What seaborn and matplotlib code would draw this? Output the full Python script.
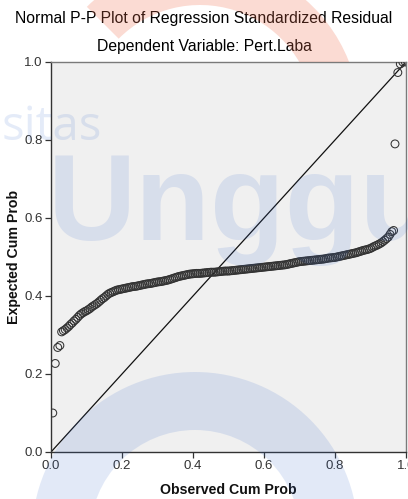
import matplotlib
matplotlib.use("Agg")
import matplotlib.pyplot as plt
from matplotlib.patches import Wedge, Rectangle
import seaborn as sns

# ---- data ----
# isolated points at both ends
tail_obs = [0.005, 0.012, 0.019, 0.025, 0.969, 0.977, 0.984, 0.991, 0.998]
tail_exp = [0.100, 0.227, 0.268, 0.273, 0.790, 0.973, 0.995, 1.000, 1.000]

# the dense chain of points in the middle
chain_obs = [
    0.030, 0.035, 0.040, 0.045, 0.050, 0.055, 0.060, 0.065, 0.070, 0.075,
    0.080, 0.085, 0.090, 0.095, 0.100, 0.105, 0.110, 0.115, 0.120, 0.125,
    0.130, 0.135, 0.140, 0.145, 0.150, 0.155, 0.160, 0.165, 0.170, 0.175,
    0.180, 0.185, 0.190, 0.195, 0.200, 0.205, 0.210, 0.215, 0.220, 0.225,
    0.230, 0.235, 0.240, 0.245, 0.250, 0.255, 0.260, 0.265, 0.270, 0.275,
    0.280, 0.285, 0.290, 0.295, 0.300, 0.305, 0.310, 0.315, 0.320, 0.325,
    0.330, 0.335, 0.340, 0.345, 0.350, 0.355, 0.360, 0.365, 0.370, 0.375,
    0.380, 0.385, 0.390, 0.395, 0.400, 0.405, 0.410, 0.415, 0.420, 0.425,
    0.430, 0.435, 0.440, 0.445, 0.450, 0.455, 0.460, 0.465, 0.470, 0.475,
    0.480, 0.485, 0.490, 0.495, 0.500, 0.505, 0.510, 0.515, 0.520, 0.525,
    0.530, 0.535, 0.540, 0.545, 0.550, 0.555, 0.560, 0.565, 0.570, 0.575,
    0.580, 0.585, 0.590, 0.595, 0.600, 0.605, 0.610, 0.615, 0.620, 0.625,
    0.630, 0.635, 0.640, 0.645, 0.650, 0.655, 0.660, 0.665, 0.670, 0.675,
    0.680, 0.685, 0.690, 0.695, 0.700, 0.705, 0.710, 0.715, 0.720, 0.725,
    0.730, 0.735, 0.740, 0.745, 0.750, 0.755, 0.760, 0.765, 0.770, 0.775,
    0.780, 0.785, 0.790, 0.795, 0.800, 0.805, 0.810, 0.815, 0.820, 0.825,
    0.830, 0.835, 0.840, 0.845, 0.850, 0.855, 0.860, 0.865, 0.870, 0.875,
    0.880, 0.885, 0.890, 0.895, 0.900, 0.905, 0.910, 0.915, 0.920, 0.925,
    0.930, 0.935, 0.940, 0.945, 0.950, 0.955, 0.960, 0.965,
]
chain_exp = [
    0.308, 0.311, 0.314, 0.318, 0.322, 0.327, 0.331, 0.336, 0.340, 0.345,
    0.350, 0.354, 0.357, 0.360, 0.362, 0.365, 0.368, 0.372, 0.375, 0.378,
    0.381, 0.385, 0.389, 0.393, 0.396, 0.400, 0.404, 0.407, 0.409, 0.411,
    0.413, 0.415, 0.416, 0.417, 0.418, 0.419, 0.420, 0.421, 0.422, 0.423,
    0.424, 0.4245, 0.425, 0.426, 0.427, 0.428, 0.429, 0.430, 0.431, 0.4315,
    0.432, 0.433, 0.434, 0.435, 0.436, 0.4365, 0.437, 0.438, 0.439, 0.440,
    0.441, 0.4425, 0.444, 0.4455, 0.447, 0.4485, 0.450, 0.451, 0.452, 0.453,
    0.454, 0.455, 0.456, 0.4565, 0.457, 0.4575, 0.458, 0.458, 0.458, 0.4585,
    0.459, 0.4595, 0.460, 0.4605, 0.461, 0.461, 0.461, 0.4615, 0.462, 0.4625,
    0.463, 0.4635, 0.464, 0.464, 0.464, 0.4645, 0.465, 0.4655, 0.466, 0.4665,
    0.467, 0.4675, 0.468, 0.4685, 0.469, 0.4695, 0.470, 0.4705, 0.471, 0.4715,
    0.472, 0.4725, 0.473, 0.4735, 0.474, 0.4745, 0.475, 0.4755, 0.476, 0.4765,
    0.477, 0.4775, 0.478, 0.4785, 0.479, 0.4795, 0.480, 0.481, 0.482, 0.483,
    0.484, 0.485, 0.486, 0.487, 0.488, 0.4885, 0.489, 0.4895, 0.490, 0.4905,
    0.491, 0.4915, 0.492, 0.4925, 0.493, 0.4935, 0.494, 0.4945, 0.495, 0.496,
    0.497, 0.4975, 0.498, 0.4985, 0.499, 0.500, 0.501, 0.502, 0.503, 0.504,
    0.505, 0.506, 0.507, 0.508, 0.509, 0.510, 0.511, 0.5125, 0.514, 0.5155,
    0.517, 0.518, 0.519, 0.5205, 0.522, 0.5245, 0.527, 0.529, 0.531, 0.5335,
    0.536, 0.5395, 0.543, 0.547, 0.551, 0.558, 0.565, 0.568,
]

tick_vals = [0.0, 0.2, 0.4, 0.6, 0.8, 1.0]
tick_labels = ["0.0", "0.2", "0.4", "0.6", "0.8", "1.0"]

title = "Normal P-P Plot of Regression Standardized Residual"
subtitle = "Dependent Variable: Pert.Laba"

# ---- style ----
sns.set_theme(style="ticks")
plt.rcParams["font.family"] = ["Liberation Sans", "DejaVu Sans"]

W, H = 408, 499
fig = plt.figure(figsize=(W / 100, H / 100), dpi=100)
fig.patch.set_facecolor("white")

ax = fig.add_axes([51 / W, 47 / H, 355 / W, 390 / H])
ax.set_facecolor("#f0f0f0")

obs = tail_obs[:4] + chain_obs + tail_obs[4:]
exp = tail_exp[:4] + chain_exp + tail_exp[4:]
sns.scatterplot(x=obs, y=exp, ax=ax, marker="o",
                s=32, facecolor="none", edgecolor="#333333",
                linewidth=0.75, zorder=3)
ax.plot([0, 1], [0, 1], color="#111111", lw=0.9, zorder=2)

ax.set_xlim(0, 1)
ax.set_ylim(0, 1)
ax.set_xticks(tick_vals)
ax.set_xticklabels(tick_labels)
ax.set_yticks(tick_vals)
ax.set_yticklabels(tick_labels)
ax.tick_params(direction="out", length=4.5, width=0.9, color="#333333",
               labelsize=9.5, labelcolor="#333333", pad=1.5)
for side in ["left", "bottom"]:
    ax.spines[side].set_color("#333333")
    ax.spines[side].set_linewidth(1.0)
for side in ["top", "right"]:
    ax.spines[side].set_visible(True)
    ax.spines[side].set_color("#7a7a7a")
    ax.spines[side].set_linewidth(1.0)

ax.set_xlabel("Observed Cum Prob", fontsize=10.2, fontweight="bold",
              color="#111111", labelpad=8)
ax.set_ylabel("Expected Cum Prob", fontsize=10.2, fontweight="bold",
              color="#111111", labelpad=2)

fig.text(0.5, 1 - 18 / H, title, ha="center", va="center",
         fontsize=11.3, color="#000000")
fig.text(0.5, 1 - 47 / H, subtitle, ha="center", va="center",
         fontsize=11.3, color="#000000")

# ---- faint watermark overlay (pixel coordinates) ----
wm = fig.add_axes([0, 0, 1, 1], zorder=5)
wm.set_xlim(0, W)
wm.set_ylim(H, 0)
wm.axis("off")
wm.patch.set_alpha(0)

blue = "#3366cc"
orange_ring = Wedge((200, 120), 160, 225, 350, width=45,
                    facecolor="#f07050", edgecolor="none", alpha=0.25)
wm.add_patch(orange_ring)
orange_ring.set_clip_path(Rectangle((0, 0), W, 62, transform=wm.transData))

wm.add_patch(Wedge((195, 535), 163, 180, 360, width=58,
                   facecolor=blue, edgecolor="none", alpha=0.14))
wm.text(2, 140, "sitas", fontsize=34, color=blue, alpha=0.13,
        ha="left", va="baseline", family=["Open Sans", "DejaVu Sans"])
wm.text(48, 240, "Unggu", fontsize=88, fontweight="bold", color=blue,
        alpha=0.13, ha="left", va="baseline")

fig.savefig("out.png", dpi=100)
